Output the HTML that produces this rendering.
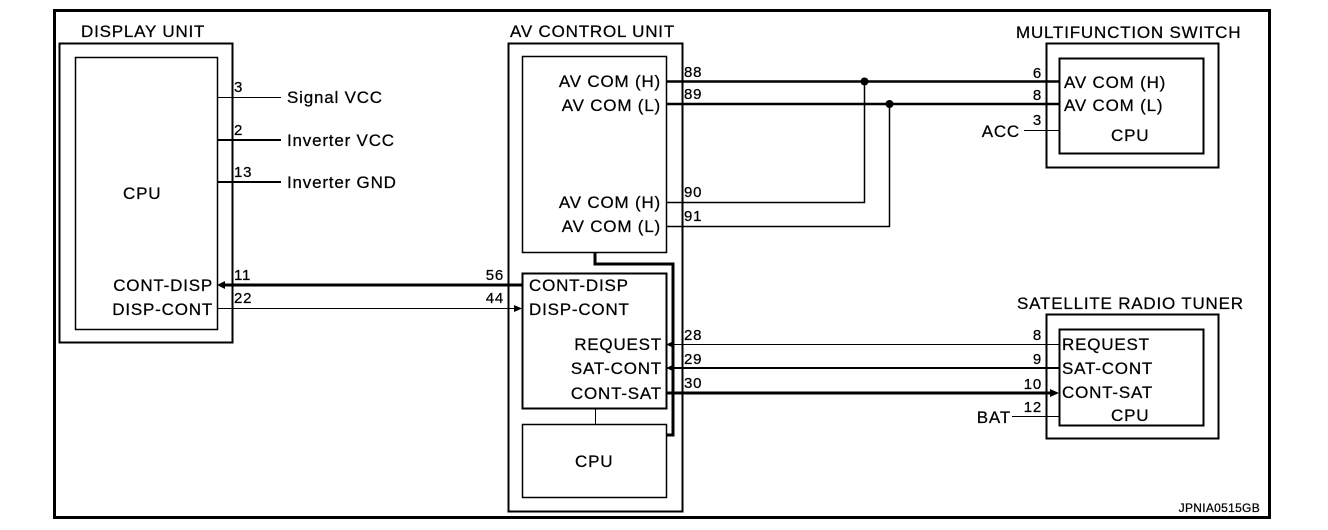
<!DOCTYPE html>
<html><head><style>
html,body{margin:0;padding:0;background:#fff;}
svg{display:block;}
text{font-family:"Liberation Sans",Arial,sans-serif;fill:#000;stroke:#000;stroke-width:0.25;}
.l{font-size:17px;letter-spacing:0.8px;}
.n{font-size:15px;letter-spacing:0.8px;}
</style></head><body>
<svg width="1328" height="530" viewBox="0 0 1328 530" xmlns="http://www.w3.org/2000/svg">
<g fill="none" stroke="#000">
<rect x="54.5" y="10.5" width="1215" height="507" stroke-width="3"/>
<rect x="59.5" y="43.5" width="173" height="299" stroke-width="2"/>
<rect x="75.5" y="57.5" width="142" height="272" stroke-width="1.5"/>
<rect x="508.5" y="43.5" width="174" height="468" stroke-width="2"/>
<rect x="522.5" y="56.5" width="144" height="196" stroke-width="1.5"/>
<rect x="522.5" y="273.5" width="144" height="135" stroke-width="2"/>
<rect x="522.5" y="424.5" width="144" height="73" stroke-width="1.5"/>
<line x1="595.5" y1="408" x2="595.5" y2="424" stroke-width="1"/>
<polyline points="595,252 595,264 673,264 673,435 666,435" stroke-width="3"/>
<rect x="1046.5" y="43.5" width="172" height="124" stroke-width="2"/>
<rect x="1059.5" y="58.5" width="144" height="95" stroke-width="2"/>
<rect x="1046.5" y="314.5" width="172" height="124" stroke-width="2"/>
<rect x="1059.5" y="329.5" width="144" height="96" stroke-width="2"/>
<line x1="217" y1="97.5" x2="281" y2="97.5" stroke-width="1"/>
<line x1="217" y1="140" x2="281" y2="140" stroke-width="2"/>
<line x1="217" y1="182" x2="281" y2="182" stroke-width="2"/>
<line x1="222" y1="285" x2="522" y2="285" stroke-width="3"/>
<line x1="217" y1="308.5" x2="516" y2="308.5" stroke-width="1"/>
<line x1="666" y1="81.5" x2="1059" y2="81.5" stroke-width="2.5"/>
<line x1="666" y1="104" x2="1059" y2="104" stroke-width="2.5"/>
<polyline points="666,202.5 864.5,202.5 864.5,81" stroke-width="1.5"/>
<polyline points="666,226.5 889.5,226.5 889.5,104" stroke-width="1.5"/>
<line x1="1024" y1="130.5" x2="1059" y2="130.5" stroke-width="1"/>
<line x1="672" y1="344.5" x2="1059" y2="344.5" stroke-width="1"/>
<line x1="672" y1="368" x2="1059" y2="368" stroke-width="2"/>
<line x1="666" y1="393" x2="1052" y2="393" stroke-width="3"/>
<line x1="1012" y1="416.5" x2="1059" y2="416.5" stroke-width="1"/>
</g>
<g fill="#000">
<circle cx="864.5" cy="81.5" r="4"/>
<circle cx="889.5" cy="104" r="4"/>
<polygon points="217,285 225,281 225,289"/>
<polygon points="522,308.5 514,305 514,312"/>
<polygon points="666,344.5 674,341 674,348"/>
<polygon points="666,368 674,364.5 674,371.5"/>
<polygon points="1059,393 1050,389 1050,397"/>
</g>
<g class="l">
<text x="81" y="37">DISPLAY UNIT</text>
<text x="510" y="37">AV CONTROL UNIT</text>
<text x="1016" y="38">MULTIFUNCTION SWITCH</text>
<text x="1017" y="309">SATELLITE RADIO TUNER</text>
<text x="287" y="103">Signal VCC</text>
<text x="287" y="146">Inverter VCC</text>
<text x="287" y="188">Inverter GND</text>
<text x="123" y="199">CPU</text>
<text x="213" y="291" text-anchor="end">CONT-DISP</text>
<text x="213" y="315" text-anchor="end">DISP-CONT</text>
<text x="661" y="87" text-anchor="end">AV COM (H)</text>
<text x="661" y="111" text-anchor="end">AV COM (L)</text>
<text x="661" y="208" text-anchor="end">AV COM (H)</text>
<text x="661" y="232" text-anchor="end">AV COM (L)</text>
<text x="529" y="291">CONT-DISP</text>
<text x="529" y="315">DISP-CONT</text>
<text x="662" y="350" text-anchor="end">REQUEST</text>
<text x="662" y="374" text-anchor="end">SAT-CONT</text>
<text x="662" y="399" text-anchor="end">CONT-SAT</text>
<text x="575" y="467">CPU</text>
<text x="1064" y="88">AV COM (H)</text>
<text x="1064" y="111">AV COM (L)</text>
<text x="1111" y="141">CPU</text>
<text x="1020" y="137" text-anchor="end">ACC</text>
<text x="1062" y="350">REQUEST</text>
<text x="1062" y="374">SAT-CONT</text>
<text x="1062" y="398">CONT-SAT</text>
<text x="1111" y="421">CPU</text>
<text x="1011" y="423" text-anchor="end">BAT</text>
</g>
<g class="n">
<text x="234" y="92">3</text>
<text x="234" y="135">2</text>
<text x="234" y="177">13</text>
<text x="234" y="280">11</text>
<text x="234" y="303">22</text>
<text x="504" y="280" text-anchor="end">56</text>
<text x="504" y="303" text-anchor="end">44</text>
<text x="684" y="77">88</text>
<text x="684" y="99">89</text>
<text x="684" y="197">90</text>
<text x="684" y="221">91</text>
<text x="684" y="340">28</text>
<text x="684" y="364">29</text>
<text x="684" y="388">30</text>
<text x="1042" y="78" text-anchor="end">6</text>
<text x="1042" y="100" text-anchor="end">8</text>
<text x="1042" y="125" text-anchor="end">3</text>
<text x="1042" y="340" text-anchor="end">8</text>
<text x="1042" y="364" text-anchor="end">9</text>
<text x="1042" y="389" text-anchor="end">10</text>
<text x="1042" y="412" text-anchor="end">12</text>
<text x="1260" y="512" text-anchor="end" style="font-size:12px;letter-spacing:0.3px">JPNIA0515GB</text>
</g>
</svg>
</body></html>
